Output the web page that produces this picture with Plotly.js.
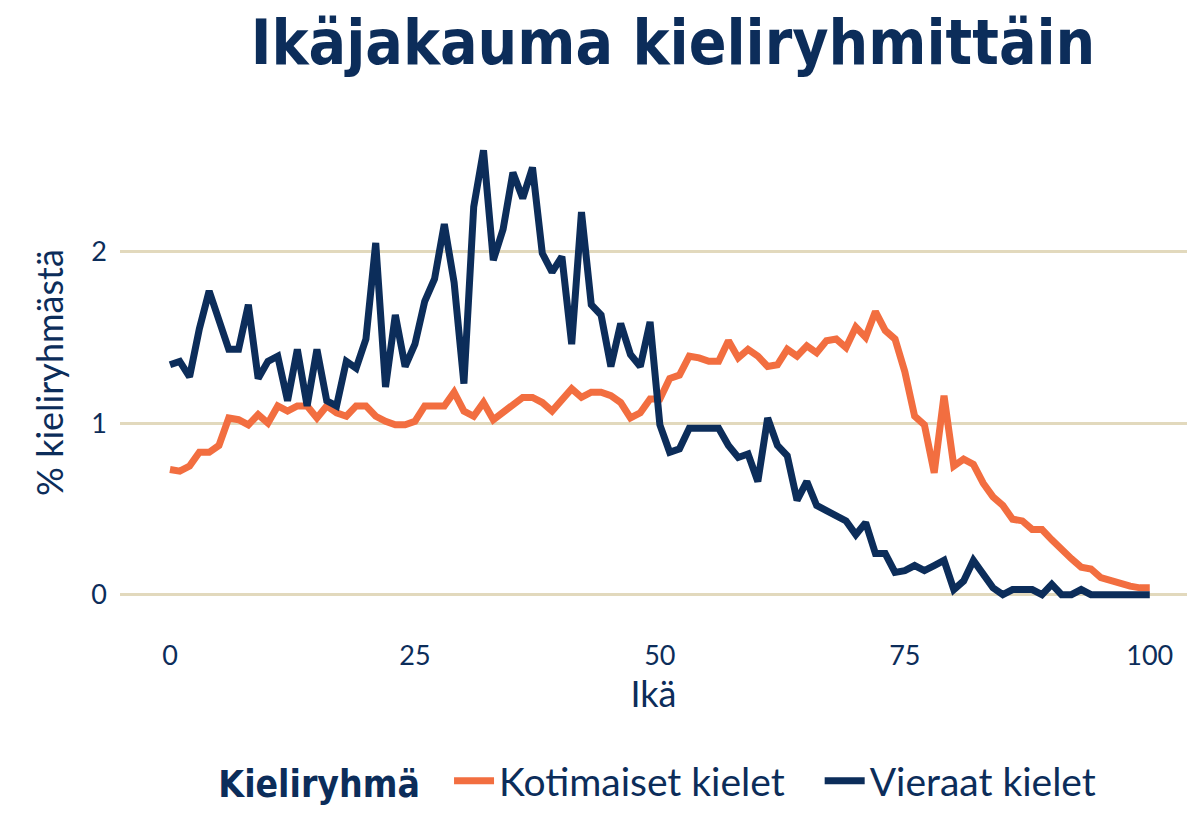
<!DOCTYPE html>
<html>
<head>
<meta charset="utf-8">
<script src="https://cdn.plot.ly/plotly-3.0.1.min.js"></script>
<style>html,body{margin:0;padding:0;background:#fff;}#chart{width:1187px;height:813px;}</style>
</head>
<body>
<div id="chart"></div>
<script>
const ages = Array.from({length: 101}, (_, i) => i);

const kotimaiset = [
  0.73, 0.72, 0.75, 0.83, 0.83, 0.87, 1.03, 1.02, 0.99, 1.05,
  1.00, 1.10, 1.07, 1.10, 1.10, 1.03, 1.10, 1.06, 1.04, 1.10,
  1.10, 1.04, 1.01, 0.99, 0.99, 1.01, 1.10, 1.10, 1.10, 1.18,
  1.07, 1.04, 1.12, 1.02, 1.06, 1.10, 1.15, 1.15, 1.12, 1.07,
  1.13, 1.20, 1.15, 1.18, 1.18, 1.16, 1.12, 1.03, 1.06, 1.14,
  1.14, 1.26, 1.28, 1.39, 1.38, 1.36, 1.36, 1.48, 1.38, 1.43,
  1.39, 1.33, 1.34, 1.43, 1.39, 1.45, 1.41, 1.48, 1.49, 1.44,
  1.56, 1.50, 1.65, 1.54, 1.49, 1.30, 1.04, 0.99, 0.71, 1.16,
  0.75, 0.79, 0.76, 0.65, 0.57, 0.52, 0.44, 0.43, 0.38, 0.38,
  0.32, 0.26, 0.21, 0.16, 0.15, 0.10, 0.08, 0.06, 0.05, 0.04,
  0.04
];

const vieraat = [
  1.34, 1.36, 1.27, 1.55, 1.77, 1.60, 1.43, 1.43, 1.69, 1.26,
  1.36, 1.39, 1.13, 1.43, 1.10, 1.43, 1.13, 1.10, 1.36, 1.32,
  1.49, 2.05, 1.21, 1.63, 1.33, 1.46, 1.71, 1.84, 2.16, 1.82,
  1.23, 2.26, 2.59, 1.95, 2.13, 2.46, 2.31, 2.49, 1.99, 1.88,
  1.97, 1.46, 2.23, 1.69, 1.63, 1.33, 1.58, 1.40, 1.33, 1.59,
  0.99, 0.83, 0.85, 0.97, 0.97, 0.97, 0.97, 0.87, 0.80, 0.82,
  0.66, 1.03, 0.87, 0.81, 0.55, 0.66, 0.52, 0.49, 0.46, 0.43,
  0.35, 0.42, 0.24, 0.24, 0.13, 0.14, 0.17, 0.14, 0.17, 0.20,
  0.03, 0.08, 0.20, 0.12, 0.04, 0.00, 0.03, 0.03, 0.03, 0.00,
  0.06, 0.00, 0.00, 0.03, 0.00, 0.00, 0.00, 0.00, 0.00, 0.00,
  0.00
];

const seriesNames = ["Kotimaiset kielet", "Vieraat kielet"];
const legendTitle = "Kieliryhmä";
const yTicks = [0, 1, 2];
const xTicks = [0, 25, 50, 75, 100];

const navy = "#0c2d5a";
const orange = "#f26e40";
const bodyFont = "Lato, 'Noto Sans', sans-serif";
const boldFont = "'DejaVu Sans Condensed', 'DejaVu Sans', sans-serif";
const pad = "\u00a0\u00a0";
const pad3 = "\u00a0\u00a0\u00a0";

const traces = [
  {x: ages, y: kotimaiset, name: seriesNames[0] + pad3, type: "scatter", mode: "lines",
   line: {color: orange, width: 7}},
  {x: ages, y: vieraat, name: seriesNames[1], type: "scatter", mode: "lines",
   line: {color: navy, width: 7}}
];

const layout = {
  width: 1187, height: 813,
  paper_bgcolor: "#ffffff", plot_bgcolor: "#ffffff",
  margin: {l: 120, r: 0, t: 128, b: 194},
  font: {family: bodyFont, color: navy, size: 26},
  title: {
    text: "<b>Ikäjakauma kieliryhmittäin</b>",
    font: {family: boldFont, size: 62, color: navy},
    x: 0.567, xanchor: "center", y: 0.948, yanchor: "middle"
  },
  xaxis: {
    range: [-5.1, 103.8],
    tickvals: xTicks, ticktext: xTicks.map(String),
    showgrid: false, zeroline: false, showline: false, ticks: "",
    ticklabelstandoff: 20,
    tickfont: {size: 27, color: navy, family: bodyFont},
    title: {text: "Ikä", font: {size: 36, color: navy, family: bodyFont}, standoff: 10}
  },
  yaxis: {
    range: [-0.13, 2.72],
    tickvals: yTicks, ticktext: yTicks.map(String),
    showgrid: true, gridcolor: "#e2d9bd", gridwidth: 3,
    zeroline: false, showline: false, ticks: "",
    ticklabelstandoff: 12,
    tickfont: {size: 27, color: navy, family: bodyFont},
    title: {text: "% kieliryhmästä", font: {size: 36, color: navy, family: bodyFont}, standoff: 16}
  },
  legend: {
    orientation: "h", x: 0.505, xanchor: "center", y: -0.335, yanchor: "middle",
    title: {text: "<b>" + legendTitle + "</b>" + pad, side: "left", font: {size: 37, color: navy, family: boldFont}},
    font: {size: 39, color: navy, family: bodyFont},
    itemwidth: 40, tracegroupgap: 0
  },
  showlegend: true
};

Plotly.newPlot("chart", traces, layout, {displayModeBar: false, staticPlot: true});
</script>
</body>
</html>
